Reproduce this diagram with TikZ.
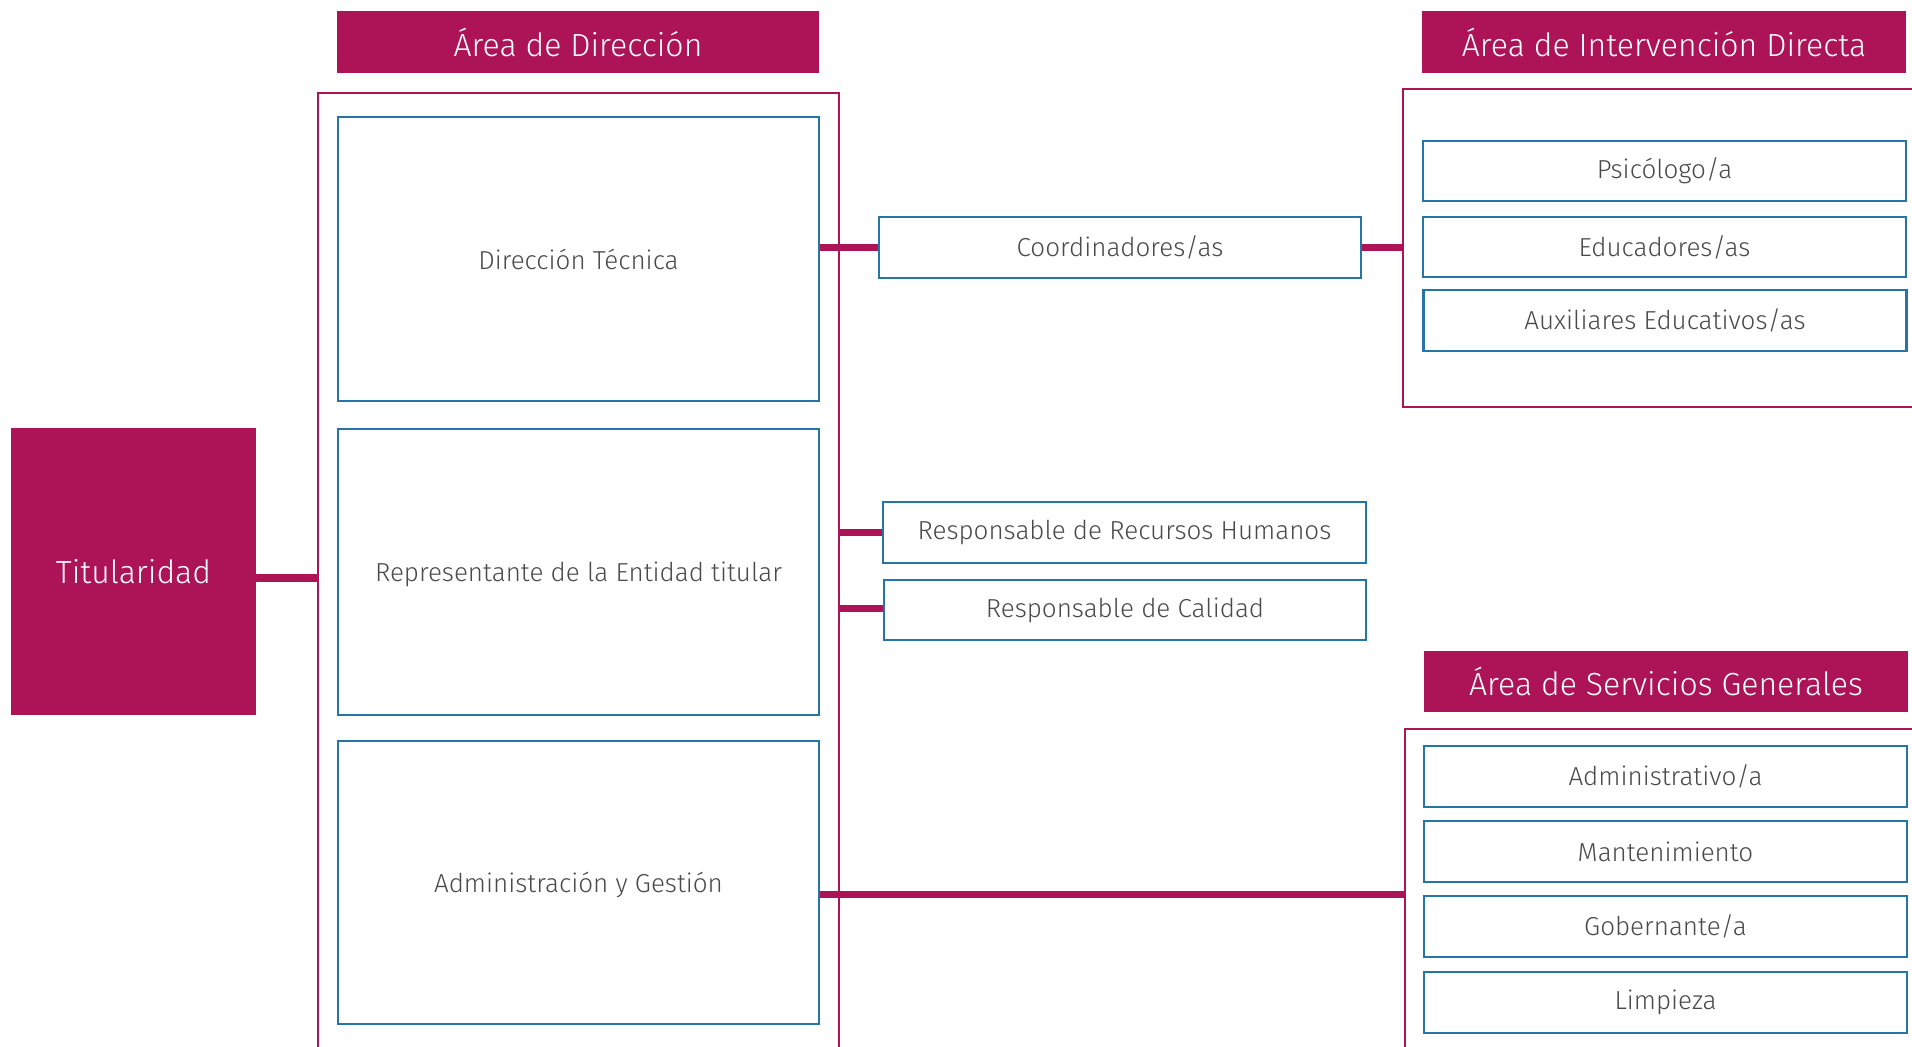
\documentclass[tikz,border=0pt]{standalone}
\usepackage{fontspec}
\setmainfont{Fira Sans}[UprightFont=* Light]
\definecolor{mag}{HTML}{AD1457}
\definecolor{bbl}{HTML}{2675A8}
\definecolor{txt}{HTML}{4A4A4A}
\tikzset{
  hdr/.style={fill=mag, draw=none, text=white, font=\fontsize{16}{19}\selectfont, inner sep=0pt},
  tbox/.style={fill=mag, draw=none, text=white, font=\fontsize{16}{19}\selectfont, inner sep=0pt},
  rolebox/.style={draw=bbl, line width=1.3pt, fill=white, text=txt, font=\fontsize{13}{16}\selectfont, inner sep=0pt},
  bigbox/.style={rolebox, text depth=-2.4pt},
  framebox/.style={draw=mag, line width=1pt, inner sep=0pt},
  link/.style={draw=mag, line width=3.6pt}
}
\begin{document}
\begin{tikzpicture}[x=0.5pt,y=-0.5pt]
\useasboundingbox (0,0) rectangle (1912,1046);
\clip (0,0) rectangle (1912,1046);
\fill[white] (0,0) rectangle (1912,1046);
% frames
\node[framebox, minimum width=260.5pt, minimum height=483.5pt] (frameDir) at (578.5,576.5) {};
\node[framebox, minimum width=263.5pt, minimum height=159pt] (frameAID) at (1666.5,248) {};
\node[framebox, minimum width=262.5pt, minimum height=165.5pt] (frameASG) at (1667.5,894.5) {};
% headers
\node[hdr, minimum width=241pt, minimum height=31pt] (hdrDir) at (578,42) {Área de Dirección};
\node[hdr, minimum width=242pt, minimum height=31pt] (hdrAID) at (1664,42) {Área de Intervención Directa};
\node[hdr, minimum width=242pt, minimum height=30.5pt] (hdrASG) at (1666,681.5) {Área de Servicios Generales};
% titularidad
\node[tbox, minimum width=122.5pt, minimum height=143.5pt] (tit) at (133.5,571.5) {Titularidad};
% direction boxes
\node[rolebox, minimum width=240.5pt, minimum height=142pt] (dt) at (578.5,259) {Dirección Técnica};
\node[bigbox, minimum width=240.5pt, minimum height=143pt] (rep) at (578.5,572) {Representante de la Entidad titular};
\node[bigbox, minimum width=240.5pt, minimum height=141.5pt] (adm) at (578.5,882.5) {Administración y Gestión};
% middle
\node[rolebox, minimum width=241pt, minimum height=30.5pt] (coord) at (1120,247.5) {Coordinadores/as};
\node[rolebox, minimum width=241.5pt, minimum height=30.5pt] (rrhh) at (1124.5,532.5) {Responsable de Recursos Humanos};
\node[rolebox, minimum width=241pt, minimum height=30pt] (cal) at (1125,610) {Responsable de Calidad};
% intervention
\node[rolebox, minimum width=241.5pt, minimum height=30pt] (psi) at (1664.5,171) {Psicólogo/a};
\node[rolebox, minimum width=241.5pt, minimum height=30pt] (edu) at (1664.5,247) {Educadores/as};
\node[rolebox, minimum width=241.5pt, minimum height=30.5pt] (aux) at (1665,320.5) {Auxiliares Educativos/as};
% services
\node[rolebox, minimum width=241.5pt, minimum height=30.5pt] (admva) at (1665.5,776.5) {Administrativo/a};
\node[rolebox, minimum width=241.5pt, minimum height=30.5pt] (mant) at (1665.5,851.5) {Mantenimiento};
\node[rolebox, minimum width=241.5pt, minimum height=30.5pt] (gob) at (1665.5,926.5) {Gobernante/a};
\node[rolebox, minimum width=241.5pt, minimum height=30.5pt] (limp) at (1665.5,1002.5) {Limpieza};
% connectors
\draw[link] ([yshift=-3.2pt]tit.east) -- ([yshift=-3.2pt]tit.east -| frameDir.west);
\draw[link] (coord.west -| dt.east) -- (coord.west);
\draw[link] (coord.east) -- (coord.east -| frameAID.west);
\draw[link] (rrhh.west -| frameDir.east) -- (rrhh.west);
\draw[link] ([yshift=0.8pt]cal.west -| frameDir.east) -- ([yshift=0.8pt]cal.west);
\draw[link] (gob.north -| adm.east) -- (gob.north -| frameASG.west);
\end{tikzpicture}
\end{document}
